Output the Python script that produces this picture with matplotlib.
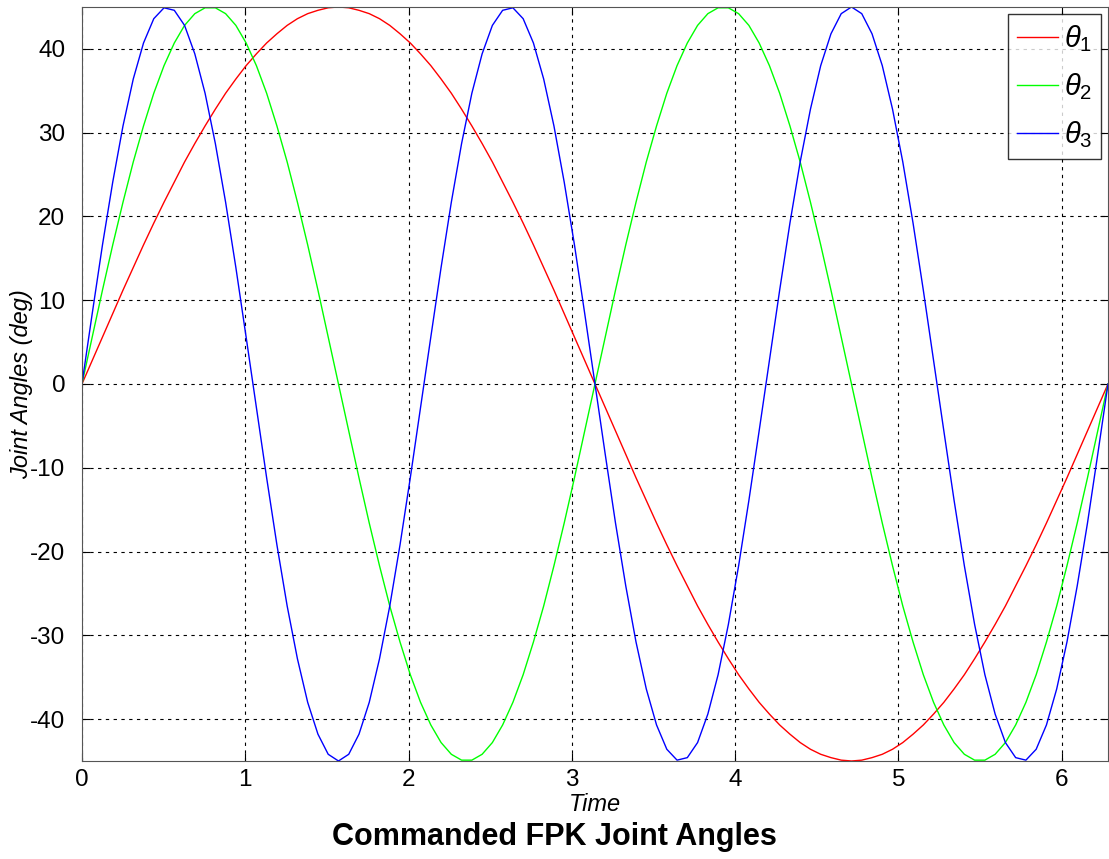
import matplotlib
matplotlib.use('Agg')
import matplotlib.pyplot as plt
import numpy as np

plt.rcParams['font.family'] = ['Liberation Sans', 'DejaVu Sans']
plt.rcParams['mathtext.fontset'] = 'custom'
plt.rcParams['mathtext.it'] = 'Liberation Sans:italic'
plt.rcParams['mathtext.rm'] = 'Liberation Sans'
plt.rcParams['axes.unicode_minus'] = False

# sample times (101 samples over one period)
time = np.linspace(0, 6.2832, 101)

theta1 = [0, 2.8, 5.6, 8.4, 11.2, 13.9, 16.6, 19.2, 21.7, 24.1, 26.5, 28.7, 30.8, 32.8, 34.7, 36.4,
          38.0, 39.4, 40.7, 41.8, 42.8, 43.6, 44.2, 44.6, 44.9, 45.0,
          44.9, 44.6, 44.2, 43.6, 42.8, 41.8, 40.7, 39.4, 38.0, 36.4, 34.7, 32.8, 30.8, 28.7, 26.5,
          24.1, 21.7, 19.2, 16.6, 13.9, 11.2, 8.4, 5.6, 2.8, 0,
          -2.8, -5.6, -8.4, -11.2, -13.9, -16.6, -19.2, -21.7, -24.1, -26.5, -28.7, -30.8, -32.8,
          -34.7, -36.4, -38.0, -39.4, -40.7, -41.8, -42.8, -43.6, -44.2, -44.6, -44.9, -45.0,
          -44.9, -44.6, -44.2, -43.6, -42.8, -41.8, -40.7, -39.4, -38.0, -36.4, -34.7, -32.8, -30.8,
          -28.7, -26.5, -24.1, -21.7, -19.2, -16.6, -13.9, -11.2, -8.4, -5.6, -2.8, 0]

theta2 = [0, 5.6, 11.2, 16.6, 21.7, 26.5, 30.8, 34.7, 38.0, 40.7, 42.8, 44.2, 44.9,
          44.9, 44.2, 42.8, 40.7, 38.0, 34.7, 30.8, 26.5, 21.7, 16.6, 11.2, 5.6, 0,
          -5.6, -11.2, -16.6, -21.7, -26.5, -30.8, -34.7, -38.0, -40.7, -42.8, -44.2, -44.9,
          -44.9, -44.2, -42.8, -40.7, -38.0, -34.7, -30.8, -26.5, -21.7, -16.6, -11.2, -5.6, 0,
          5.6, 11.2, 16.6, 21.7, 26.5, 30.8, 34.7, 38.0, 40.7, 42.8, 44.2, 44.9,
          44.9, 44.2, 42.8, 40.7, 38.0, 34.7, 30.8, 26.5, 21.7, 16.6, 11.2, 5.6, 0,
          -5.6, -11.2, -16.6, -21.7, -26.5, -30.8, -34.7, -38.0, -40.7, -42.8, -44.2, -44.9,
          -44.9, -44.2, -42.8, -40.7, -38.0, -34.7, -30.8, -26.5, -21.7, -16.6, -11.2, -5.6, 0]

theta3 = [0, 8.4, 16.6, 24.1, 30.8, 36.4, 40.7, 43.6, 44.9, 44.6, 42.8, 39.4, 34.7, 28.7, 21.7,
          13.9, 5.6, -2.8, -11.2, -19.2, -26.5, -32.8, -38.0, -41.8, -44.2, -45.0, -44.2, -41.8,
          -38.0, -32.8, -26.5, -19.2, -11.2, -2.8, 5.6, 13.9, 21.7, 28.7, 34.7, 39.4, 42.8, 44.6,
          44.9, 43.6, 40.7, 36.4, 30.8, 24.1, 16.6, 8.4, 0,
          -8.4, -16.6, -24.1, -30.8, -36.4, -40.7, -43.6, -44.9, -44.6, -42.8, -39.4, -34.7,
          -28.7, -21.7, -13.9, -5.6, 2.8, 11.2, 19.2, 26.5, 32.8, 38.0, 41.8, 44.2, 45.0, 44.2,
          41.8, 38.0, 32.8, 26.5, 19.2, 11.2, 2.8, -5.6, -13.9, -21.7, -28.7, -34.7, -39.4, -42.8,
          -44.6, -44.9, -43.6, -40.7, -36.4, -30.8, -24.1, -16.6, -8.4, 0]

labels = [r'$\theta_1$', r'$\theta_2$', r'$\theta_3$']
colors = ['#ff0000', '#00ff00', '#0000ff']

fig = plt.figure(figsize=(11.09, 8.59), dpi=100)
ax = fig.add_axes([0.0739, 0.1141, 0.9252, 0.8778])

for y, lab, c in zip([theta1, theta2, theta3], labels, colors):
    ax.plot(time, y, color=c, linewidth=1.0, label=lab)

ax.set_xlim(0, 6.2832)
ax.set_ylim(-45, 45)
ax.set_xticks(range(0, 7))
ax.set_yticks(range(-40, 41, 10))
ax.tick_params(axis='y', pad=12)
ax.tick_params(direction='in', top=True, right=True, labelsize=17.5, length=6)
ax.tick_params(axis='x', pad=6)
ax.grid(True, color='black', linestyle=(0, (3, 4)), linewidth=0.8)
for s in ax.spines.values():
    s.set_color('#555555')

ax.set_xlabel('Time', fontsize=17, style='italic', labelpad=1)
ax.set_ylabel('Joint Angles (deg)', fontsize=17, style='italic', labelpad=-2)
fig.text(0.5, 0.026, 'Commanded FPK Joint Angles', ha='center', va='center',
         fontsize=22, fontweight='bold')

leg = ax.legend(loc='upper right', fontsize=21, frameon=True, fancybox=False,
                edgecolor='black', handlelength=1.4, handletextpad=0.2,
                borderaxespad=0.25, borderpad=0.3, labelspacing=0.6)
leg.get_frame().set_linewidth(1.0)

plt.savefig('out.png', dpi=100)
